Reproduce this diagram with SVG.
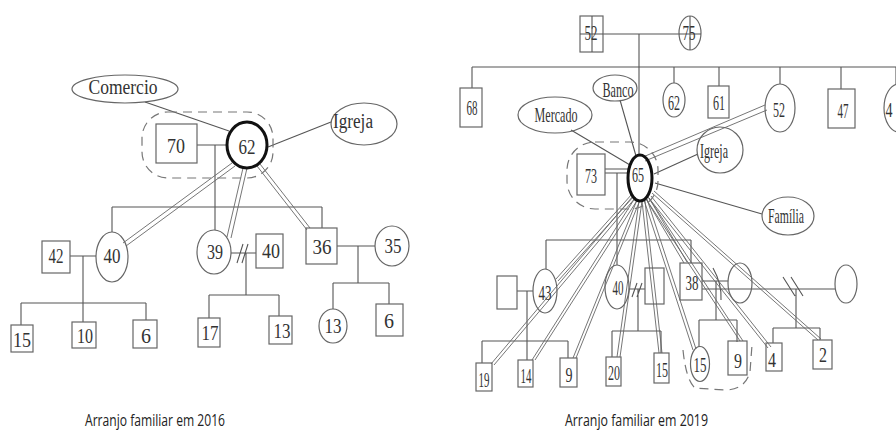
<svg xmlns="http://www.w3.org/2000/svg" width="896" height="435" viewBox="0 0 896 435">
  <style>
    .ln { stroke: #555; stroke-width: 1.1; fill: none; }
    .dl { stroke: #666; stroke-width: 0.9; fill: none; }
    .nd { stroke: #666; stroke-width: 1.2; fill: none; }
    .ego { stroke: #111; stroke-width: 3; fill: none; }
    .dash { stroke: #777; stroke-width: 1.2; fill: none; stroke-dasharray: 9 6; }
    .L { font-family: "Liberation Serif", "Times New Roman", serif; font-size: 20px; fill: #333; text-anchor: middle; }
    .R { font-family: "Liberation Serif", "Times New Roman", serif; font-size: 22px; fill: #333; text-anchor: middle; }
    .cap { font-family: "Open Sans", "Liberation Sans", sans-serif; font-size: 17px; fill: #222; }
  </style>

  <rect width="896" height="435" fill="#fff"/>

  <g id="connectors">
    <!-- ===== 2016 arrangement ===== -->
    <!-- network ties -->
    <path class="ln" d="M145,102 L229,131"/>
    <path class="ln" d="M268,147 L331,122"/>
    <!-- couple 70-62 and their children -->
    <path class="ln" d="M197,145 H226 M215,145 V230 M112,207 H322 M112,207 V232 M322,207 V228"/>
    <!-- 42-40 family -->
    <path class="ln" d="M70,256 H96 M83,256 V322 M21,303 H146 M21,303 V325 M146,303 V320"/>
    <!-- 39-40 family (separated) -->
    <path class="ln" d="M231,253 H256 M237,263 L243,244 M242,263 L248,244 M246,253 V295 M209,295 H279 M209,295 V318 M279,295 V316"/>
    <!-- 36-35 family -->
    <path class="ln" d="M337,246 H375 M358,246 V283 M333,283 H389 M333,283 V309 M389,283 V304"/>
    <!-- strong ties from 62 -->
    <path class="dl" d="M232,163 L123,243 M235,166 L126,246"/>
    <path class="dl" d="M243,168 L227,237 M247,168 L231,238"/>
    <path class="dl" d="M257,166 L307,230 M260,164 L310,228"/>

    <!-- ===== 2019 arrangement ===== -->
    <path class="ln" d="M603,34 H679 M639,34 V155"/>
    <path class="ln" d="M472,67 H896 M472,67 V88 M674,67 V83 M719,67 V86 M780,67 V84 M841,67 V89"/>
    <path class="ln" d="M571,130 L630,165 M620,100 L636,156 M654,174 L698,154 M655,183 L762,214"/>
    <path class="ln" d="M605,169 H628 M605,173 H628 M617,173 V240"/>
    <path class="ln" d="M546,240 H691 M546,240 V269 M617,240 V265 M691,240 V263"/>
    <!-- 43 family -->
    <path class="ln" d="M517,291 H533 M527,291 V360 M482,341 H568 M482,341 V363 M568,341 V358"/>
    <!-- 40 family (separated) -->
    <path class="ln" d="M629,289 H645 M632,297 L637,283 M637,297 L642,283 M638,289 V331 M612,331 H661 M612,331 V357 M661,331 V353"/>
    <!-- 38 unions -->
    <path class="ln" d="M702,281 H728 M702,289 H835 M716,281 V320 M699,320 H737 M699,320 V347 M737,320 V342"/>
    <path class="ln" d="M713,268 Q722,284 721,300"/>
    <path class="ln" d="M783,277 L795,296 M791,277 L803,296 M796,289 V328 M773,328 H820 M773,328 V343 M820,328 V340"/>
    <!-- strong ties from 65 -->
    <path class="dl" d="M643,157 L765,105 M645,161 L767,110"/>
    <path class="dl" d="M632,194 L556,279 M634,196 L558,281"/>
    <path class="dl" d="M633,196 L491,364 M636,197 L494,365"/>
    <path class="dl" d="M635,198 L532,360 M638,199 L535,360"/>
    <path class="dl" d="M637,200 L573,358 M640,200 L576,358"/>
    <path class="dl" d="M639,201 L617,357 M642,201 L620,357"/>
    <path class="dl" d="M642,201 L659,353 M645,201 L662,353"/>
    <path class="dl" d="M644,200 L693,350 M647,199 L696,349"/>
    <path class="dl" d="M646,199 L684,263 M649,198 L687,262"/>
    <path class="dl" d="M646,199 L740,341 M649,198 L743,341"/>
    <path class="dl" d="M648,197 L768,348 M651,196 L771,347"/>
    <path class="dl" d="M652,193 L818,340 M654,191 L821,339"/>
  </g>

  <!-- household outlines -->
  <rect class="dash" x="142" y="112" width="131" height="66" rx="26"/>
  <rect class="dash" x="567" y="142" width="91" height="67" rx="28"/>
  <path class="dash" d="M683,350 Q686,380 695,388 L725,390 Q745,390 750,372 L752,345"/>

  <!-- 2016 nodes -->
  <g id="n-comercio"><ellipse class="nd" cx="125" cy="89" rx="53" ry="14"/><text class="L" x="123" y="94" textLength="69" lengthAdjust="spacingAndGlyphs">Comercio</text></g>
  <g id="n-igreja16"><ellipse class="nd" cx="364" cy="124" rx="33" ry="21"/><text class="L" x="353" y="128" textLength="40" lengthAdjust="spacingAndGlyphs">Igreja</text></g>
  <g id="n-70"><rect class="nd" x="156" y="124" width="41" height="39"/><text class="L" x="176" y="153" textLength="18" lengthAdjust="spacingAndGlyphs">70</text></g>
  <g id="n-62"><ellipse class="ego" cx="247" cy="145" rx="20" ry="23"/><text class="L" x="247" y="154" textLength="17" lengthAdjust="spacingAndGlyphs">62</text></g>
  <g id="n-42"><rect class="nd" x="42" y="241" width="28" height="32"/><text class="L" x="56" y="263" textLength="15" lengthAdjust="spacingAndGlyphs">42</text></g>
  <g id="n-40a"><ellipse class="nd" cx="112" cy="257" rx="16" ry="25"/><text class="L" x="112" y="263" textLength="17" lengthAdjust="spacingAndGlyphs">40</text></g>
  <g id="n-39"><ellipse class="nd" cx="214" cy="252" rx="17" ry="22"/><text class="L" x="215" y="259" textLength="16" lengthAdjust="spacingAndGlyphs">39</text></g>
  <g id="n-40b"><rect class="nd" x="256" y="234" width="27" height="34"/><text class="L" x="271" y="258" textLength="18" lengthAdjust="spacingAndGlyphs">40</text></g>
  <g id="n-36"><rect class="nd" x="306" y="228" width="31" height="36"/><text class="L" x="322" y="254" textLength="19" lengthAdjust="spacingAndGlyphs">36</text></g>
  <g id="n-35"><ellipse class="nd" cx="392" cy="246" rx="17" ry="20"/><text class="L" x="393" y="253" textLength="17" lengthAdjust="spacingAndGlyphs">35</text></g>
  <g id="n-15a"><rect class="nd" x="11" y="325" width="22" height="27"/><text class="L" x="22" y="347" textLength="18" lengthAdjust="spacingAndGlyphs">15</text></g>
  <g id="n-10"><rect class="nd" x="72" y="322" width="24" height="26"/><text class="L" x="85" y="343" textLength="16" lengthAdjust="spacingAndGlyphs">10</text></g>
  <g id="n-6a"><rect class="nd" x="133" y="320" width="24" height="28"/><text class="L" x="146" y="343">6</text></g>
  <g id="n-17"><rect class="nd" x="198" y="318" width="22" height="29"/><text class="L" x="210" y="340" textLength="17" lengthAdjust="spacingAndGlyphs">17</text></g>
  <g id="n-13a"><rect class="nd" x="269" y="316" width="23" height="28"/><text class="L" x="282" y="338" textLength="17" lengthAdjust="spacingAndGlyphs">13</text></g>
  <g id="n-13b"><ellipse class="nd" cx="333" cy="326" rx="14" ry="17"/><text class="L" x="333" y="333" textLength="17" lengthAdjust="spacingAndGlyphs">13</text></g>
  <g id="n-6b"><rect class="nd" x="376" y="304" width="27" height="32"/><text class="L" x="389" y="328">6</text></g>

  <!-- 2019 nodes -->
  <g id="n-52d"><rect class="nd" x="580" y="16" width="23" height="36"/><path class="ln" d="M592,16 V52 M580,34 H603"/><text class="R" x="591" y="40" textLength="13" lengthAdjust="spacingAndGlyphs">52</text></g>
  <g id="n-75d"><ellipse class="nd" cx="690" cy="33" rx="11" ry="17"/><path class="ln" d="M690,16 V50 M679,34 H701"/><text class="R" x="689" y="40" textLength="13" lengthAdjust="spacingAndGlyphs">75</text></g>
  <g id="n-68"><rect class="nd" x="460" y="88" width="22" height="39"/><text class="R" x="472" y="115" textLength="11" lengthAdjust="spacingAndGlyphs">68</text></g>
  <g id="n-banco"><ellipse class="nd" cx="615" cy="88" rx="22" ry="13"/><text class="R" x="618" y="97" textLength="31" lengthAdjust="spacingAndGlyphs">Banco</text></g>
  <g id="n-mercado"><ellipse class="nd" cx="555" cy="115" rx="37" ry="18"/><text class="R" x="556" y="122" textLength="43" lengthAdjust="spacingAndGlyphs">Mercado</text></g>
  <g id="n-62b"><ellipse class="nd" cx="674" cy="100" rx="11" ry="17"/><text class="R" x="674" y="110" textLength="12" lengthAdjust="spacingAndGlyphs">62</text></g>
  <g id="n-61"><rect class="nd" x="708" y="86" width="21" height="32"/><text class="R" x="719" y="110" textLength="12" lengthAdjust="spacingAndGlyphs">61</text></g>
  <g id="n-52"><ellipse class="nd" cx="780" cy="108" rx="15" ry="24"/><text class="R" x="779" y="117" textLength="12" lengthAdjust="spacingAndGlyphs">52</text></g>
  <g id="n-47"><rect class="nd" x="828" y="89" width="27" height="39"/><text class="R" x="843" y="118" textLength="11" lengthAdjust="spacingAndGlyphs">47</text></g>
  <g id="n-4x"><ellipse class="nd" cx="899" cy="108" rx="15" ry="24"/><path class="ln" d="M896,67 V84"/><text class="R" x="889" y="117" textLength="7" lengthAdjust="spacingAndGlyphs">4</text></g>
  <g id="n-73"><rect class="nd" x="577" y="154" width="28" height="41"/><text class="R" x="591" y="183" textLength="12" lengthAdjust="spacingAndGlyphs">73</text></g>
  <g id="n-65"><ellipse class="ego" cx="640" cy="178" rx="12" ry="23"/><text class="R" x="638" y="182" textLength="12" lengthAdjust="spacingAndGlyphs">65</text></g>
  <g id="n-igreja19"><ellipse class="nd" cx="720" cy="150" rx="23" ry="23"/><text class="R" x="714" y="158" textLength="28" lengthAdjust="spacingAndGlyphs">Igreja</text></g>
  <g id="n-familia"><ellipse class="nd" cx="788" cy="216" rx="26" ry="19"/><text class="R" x="786" y="223" textLength="36" lengthAdjust="spacingAndGlyphs">Família</text></g>
  <g id="n-43m"><rect class="nd" x="497" y="276" width="20" height="33"/></g>
  <g id="n-43"><ellipse class="nd" cx="545" cy="291" rx="12" ry="22"/><text class="R" x="545" y="300" textLength="13" lengthAdjust="spacingAndGlyphs">43</text></g>
  <g id="n-40"><ellipse class="nd" cx="617" cy="287" rx="12" ry="22"/><text class="R" x="618" y="295" textLength="11" lengthAdjust="spacingAndGlyphs">40</text></g>
  <g id="n-40m"><rect class="nd" x="645" y="268" width="19" height="36"/></g>
  <g id="n-38"><rect class="nd" x="680" y="263" width="22" height="37"/><text class="R" x="692" y="290" textLength="13" lengthAdjust="spacingAndGlyphs">38</text></g>
  <g id="n-38w1"><ellipse class="nd" cx="740" cy="283" rx="12" ry="20"/></g>
  <g id="n-38w2"><ellipse class="nd" cx="846" cy="284" rx="11" ry="19"/></g>
  <g id="n-19"><rect class="nd" x="476" y="363" width="16" height="28"/><text class="R" x="484" y="387" textLength="11" lengthAdjust="spacingAndGlyphs">19</text></g>
  <g id="n-14"><rect class="nd" x="518" y="360" width="15" height="27"/><text class="R" x="526" y="383" textLength="11" lengthAdjust="spacingAndGlyphs">14</text></g>
  <g id="n-9a"><rect class="nd" x="560" y="358" width="17" height="29"/><text class="R" x="569" y="382" textLength="7" lengthAdjust="spacingAndGlyphs">9</text></g>
  <g id="n-20"><rect class="nd" x="606" y="357" width="15" height="29"/><text class="R" x="614" y="380" textLength="12" lengthAdjust="spacingAndGlyphs">20</text></g>
  <g id="n-15b"><rect class="nd" x="654" y="353" width="15" height="30"/><text class="R" x="662" y="377" textLength="12" lengthAdjust="spacingAndGlyphs">15</text></g>
  <g id="n-15c"><ellipse class="nd" cx="700" cy="364" rx="9.5" ry="17.5"/><text class="R" x="700" y="372" textLength="13" lengthAdjust="spacingAndGlyphs">15</text></g>
  <g id="n-9b"><rect class="nd" x="728" y="341" width="19" height="34"/><text class="R" x="738" y="368" textLength="8" lengthAdjust="spacingAndGlyphs">9</text></g>
  <g id="n-4"><rect class="nd" x="766" y="343" width="16" height="28"/><text class="R" x="772" y="367" textLength="8" lengthAdjust="spacingAndGlyphs">4</text></g>
  <g id="n-2"><rect class="nd" x="813" y="340" width="19" height="29"/><text class="R" x="823" y="362" textLength="8" lengthAdjust="spacingAndGlyphs">2</text></g>

  <!-- captions -->
  <text class="cap" x="85" y="426" textLength="140" lengthAdjust="spacingAndGlyphs">Arranjo familiar em 2016</text>
  <text class="cap" x="565" y="426" textLength="143" lengthAdjust="spacingAndGlyphs">Arranjo familiar em 2019</text>
</svg>
